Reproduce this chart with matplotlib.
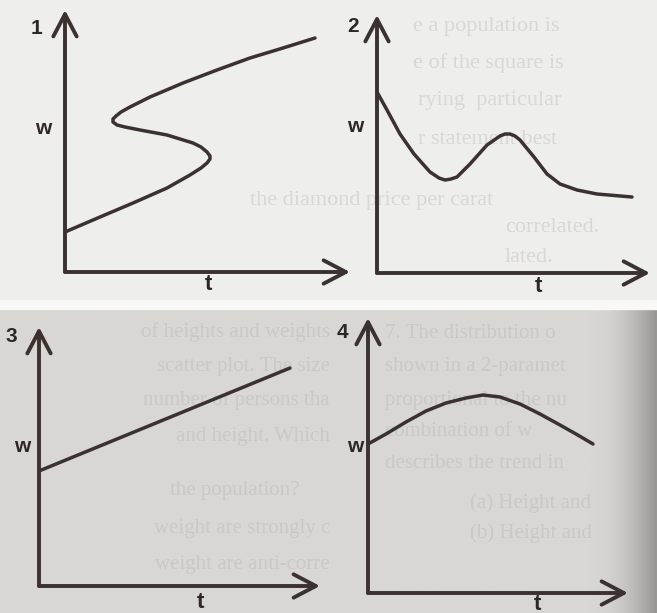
import numpy as np
import matplotlib.pyplot as plt

# sketch units: t and w measured from each panel's origin (pixels of the reference)
# panel 1 - S shaped curve, w goes back and forth
t1 = [0, 35, 68, 102, 125, 136, 142, 145, 145, 142, 136, 128, 102, 75, 60, 52, 48, 48, 51, 56, 65, 85, 118, 152, 185, 218, 250]
w1 = [40, 55, 69, 84, 97, 104, 109, 113, 116, 120, 125, 129, 137, 142, 145, 147, 150, 153, 156, 160, 165, 175, 189, 202, 214, 224, 234]

# panel 2 - fall, bump, fall
t2 = [0, 10, 23, 37, 53, 62, 68, 74, 80, 93, 110, 123, 128, 133, 138, 143, 157, 170, 183, 200, 220, 255]
w2 = [181, 163, 139, 119, 101, 95, 93, 94, 96, 109, 128, 137, 139, 139, 137, 133, 116, 99, 89, 83, 79, 76]

# panel 3 - straight line
t3 = [0, 251]
w3 = [115, 218]

# panel 4 - hump
t4 = [0, 18, 38, 58, 78, 98, 115, 132, 152, 172, 192, 208, 225]
w4 = [149, 159, 171, 182, 190, 195, 198, 196, 189, 179, 168, 159, 149]

curvas = [(t1, w1), (t2, w2), (t3, w3), (t4, w4)]
nomes = ['1', '2', '3', '4']

# origem (px), comprimento dos eixos t e w (px)
paineis = [(65, 272, 285, 262), (377, 273, 273, 258), (39, 586, 281, 259), (368, 593, 260, 275)]
pos_num = [(37, 28), (353, 26), (11, 336), (342, 332)]
pos_w = [(43, 128), (355, 127), (22, 447), (355, 447)]
pos_t = [(208, 285), (538, 287), (200, 602), (537, 604)]

W, H = 657, 613
cor_linha = '#3b3230'
cor_texto = '#2d2725'

fig = plt.figure(figsize=(W / 100, H / 100), dpi=100)
fig.patch.set_facecolor('#ecebe9')

bg = fig.add_axes([0, 0, 1, 1])
bg.axis('off')

# fundo: faixa branca e metade de baixo mais escura com sombra na direita
grad = np.linspace(0, 1, 300)
grad = np.clip((grad - 0.9) / 0.1, 0, 1) ** 2
base = np.array([217, 215, 211]) / 255
escuro = np.array([152, 150, 146]) / 255
img = base[None, :] * (1 - grad[:, None]) + escuro[None, :] * grad[:, None]
bg.imshow(img[None, :, :], extent=(0, W, H, 309), aspect='auto', zorder=0)
bg.add_patch(plt.Rectangle((0, 0), W, 300, color='#eeeeec', zorder=0))
bg.add_patch(plt.Rectangle((0, 300), W, 9, color='#f8f8f6', zorder=0))
bg.set_xlim(0, W)
bg.set_ylim(H, 0)

# texto apagado da pagina, atras dos graficos
serif = 'Liberation Serif'
fundo_cima = [(413, 27, 'e a population is'), (413, 63, 'e of the square is'),
              (418, 100, 'rying  particular'), (418, 140, 'r statement best'),
              (250, 200, 'the diamond price per carat'), (505, 227, 'correlated.'),
              (505, 257, 'lated.')]
for x, y, s in fundo_cima:
    bg.text(x, y, s, fontsize=16, family=serif, color='#d9d8d5', va='center', zorder=1)

fundo_esq = [(330, 332, 'of heights and weights'), (330, 366, 'scatter plot. The size'),
             (330, 400, 'number of persons tha'), (330, 436, 'and height. Which'),
             (300, 490, 'the population?'), (330, 528, 'weight are strongly c'),
             (330, 565, 'weight are anti-corre')]
for x, y, s in fundo_esq:
    bg.text(x, y, s, fontsize=15, family=serif, color='#cbc9c5', va='center', ha='right', zorder=1)

fundo_dir = [(385, 333, '7. The distribution o'), (385, 367, 'shown in a 2-paramet'),
             (385, 400, 'proportional to the nu'), (385, 432, 'combination of w'),
             (385, 463, 'describes the trend in'), (470, 503, '(a) Height and'),
             (470, 533, '(b) Height and')]
for x, y, s in fundo_dir:
    bg.text(x, y, s, fontsize=15, family=serif, color='#cbc9c5', va='center', zorder=1)

for i, (x0, y0, lt, lw_) in enumerate(paineis):
    ax = fig.add_axes([x0 / W, (H - y0) / H, lt / W, lw_ / H])
    ax.set_xlim(0, lt)
    ax.set_ylim(0, lw_)
    ax.axis('off')
    ax.patch.set_alpha(0)
    seta = dict(arrowstyle='->,head_length=0.8,head_width=0.42', lw=2.8, color=cor_linha,
                shrinkA=0, shrinkB=0, mutation_scale=20, capstyle='round', joinstyle='round')
    ax.annotate('', xy=(lt, 0), xytext=(0, 0), arrowprops=seta, annotation_clip=False)
    ax.annotate('', xy=(0, lw_), xytext=(0, 0), arrowprops=seta, annotation_clip=False)
    t, w = curvas[i]
    ax.plot(t, w, color=cor_linha, lw=2.5, solid_capstyle='round', solid_joinstyle='round',
            clip_on=False)

    bg.text(pos_num[i][0], pos_num[i][1], nomes[i], fontsize=15, family='Liberation Sans',
            weight='bold', color=cor_texto, ha='center', va='center', zorder=5)
    bg.text(pos_w[i][0], pos_w[i][1], 'w', fontsize=15, family='Liberation Sans',
            weight='bold', color=cor_texto, ha='center', va='center', zorder=5)
    bg.text(pos_t[i][0], pos_t[i][1], 't', fontsize=16, family='Liberation Sans',
            weight='bold', color=cor_texto, ha='center', va='center', zorder=5)

fig.savefig('out.png', dpi=100, facecolor=fig.get_facecolor())
